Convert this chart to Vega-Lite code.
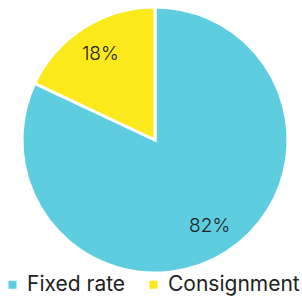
{
  "$schema": "https://vega.github.io/schema/vega-lite/v6.json",
  "width": 290,
  "height": 280,
  "padding": {"left": 10, "top": 0, "right": 2, "bottom": 20},
  "autosize": "none",
  "background": "white",
  "view": {"stroke": null},
  "data": {"values": [
    {"category": "Fixed rate", "value": 82, "label": "82%", "rank": 1},
    {"category": "Consignment", "value": 18, "label": "18%", "rank": 2}
  ]},
  "encoding": {
    "theta": {"field": "value", "type": "quantitative", "stack": true},
    "order": {"field": "rank", "type": "quantitative"}
  },
  "layer": [
    {
      "mark": {"type": "arc", "outerRadius": 133, "stroke": "white", "strokeWidth": 3},
      "encoding": {
        "color": {
          "field": "category", "type": "nominal",
          "scale": {"domain": ["Fixed rate", "Consignment"], "range": ["#5DCDDF", "#FBE91C"]},
          "legend": {
            "title": null, "orient": "none", "direction": "horizontal",
            "legendX": -8, "legendY": 274, "padding": 0, "gridAlign": "each",
            "symbolType": "square", "symbolSize": 64, "symbolStrokeWidth": 0,
            "labelFont": "Inter", "labelFontSize": 21, "labelColor": "#222", "labelLimit": 300,
            "columnPadding": 17, "labelOffset": 4
          }
        }
      }
    },
    {
      "mark": {"type": "text", "radius": 102, "font": "Inter", "fontSize": 19, "fontWeight": 300, "color": "#222"},
      "encoding": {"text": {"field": "label"}}
    }
  ]
}
